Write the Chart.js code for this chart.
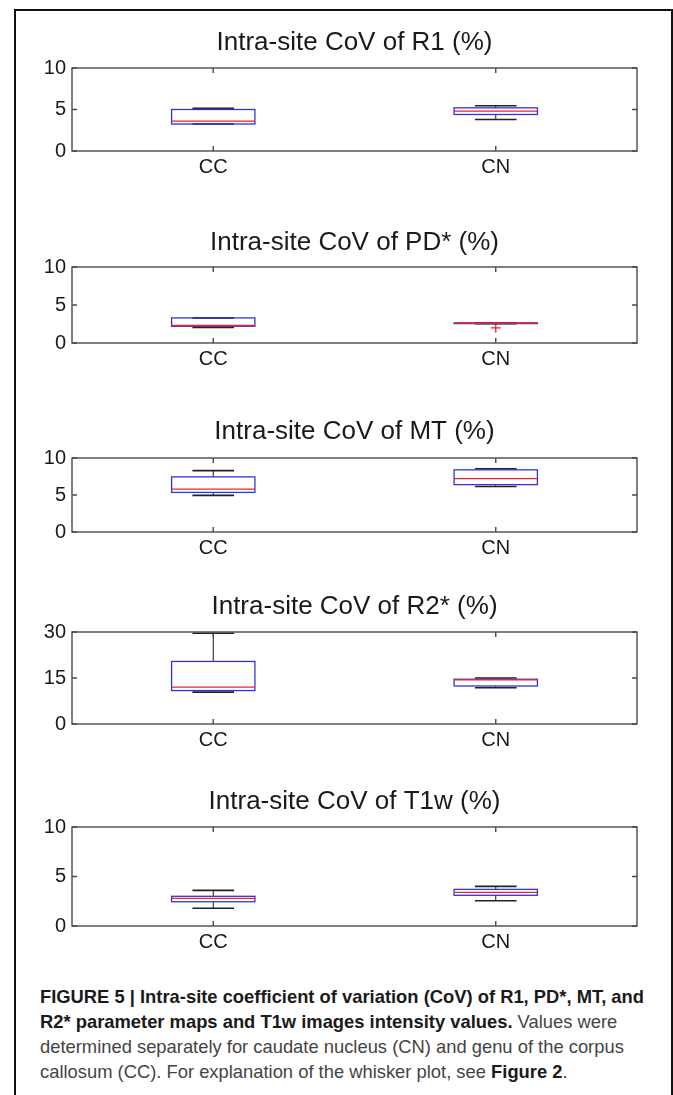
<!DOCTYPE html>
<html><head><meta charset="utf-8">
<script src="https://cdn.jsdelivr.net/npm/chart.js@4"></script>
<style>
html,body{margin:0;padding:0;background:#fff;}
body{width:673px;height:1095px;position:relative;overflow:hidden;}
#frame{position:absolute;left:14px;top:9px;width:659px;height:1100px;border:2px solid #111;border-bottom:none;box-sizing:border-box;}
.pc{position:absolute;left:0;}
#cap{position:absolute;left:40px;top:984px;font-family:"Liberation Sans",Arial,sans-serif;font-size:18.5px;line-height:25px;color:#444;white-space:nowrap;}
#cap div{transform-origin:0 50%;}
#cap b{color:#1a1a1a}
</style></head><body>
<div id="frame"></div>
<div id="charts"></div>
<div id="cap">
<div><b>FIGURE 5 | Intra-site coefficient of variation (CoV) of R1, PD*, MT, and</b></div>
<div><b>R2* parameter maps and T1w images intensity values.</b> Values were</div>
<div>determined separately for caudate nucleus (CN) and genu of the corpus</div>
<div>callosum (CC). For explanation of the whisker plot, see <b>Figure 2</b>.</div>
</div>
<script>
// ---- data ----
const categories = ['CC', 'CN'];
const titles = ['Intra-site CoV of R1 (%)', 'Intra-site CoV of PD* (%)', 'Intra-site CoV of MT (%)', 'Intra-site CoV of R2* (%)', 'Intra-site CoV of T1w (%)'];
const yMaxes = [10, 10, 10, 30, 10];
const yTickSteps = [5, 5, 5, 15, 5];

// [CC, CN]
const r1Lower  = [3.25, 3.8];
const r1Q1     = [3.25, 4.4];
const r1Median = [3.6, 4.8];
const r1Q3     = [5.0, 5.2];
const r1Upper  = [5.15, 5.45];
const r1Outliers = [null, null];

const pdLower  = [2.05, 2.55];
const pdQ1     = [2.2, 2.55];
const pdMedian = [2.3, 2.6];
const pdQ3     = [3.3, 2.65];
const pdUpper  = [3.3, 2.65];
const pdOutliers = [null, 2.0];

const mtLower  = [4.95, 6.15];
const mtQ1     = [5.35, 6.4];
const mtMedian = [5.8, 7.2];
const mtQ3     = [7.45, 8.4];
const mtUpper  = [8.3, 8.55];
const mtOutliers = [null, null];

const r2Lower  = [10.4, 11.8];
const r2Q1     = [10.9, 12.4];
const r2Median = [12.0, 14.4];
const r2Q3     = [20.4, 14.6];
const r2Upper  = [29.6, 15.0];
const r2Outliers = [null, null];

const t1Lower  = [1.8, 2.55];
const t1Q1     = [2.45, 3.1];
const t1Median = [2.8, 3.4];
const t1Q3     = [3.0, 3.7];
const t1Upper  = [3.6, 4.0];
const t1Outliers = [null, null];

const panelData = [
  {lower: r1Lower, q1: r1Q1, med: r1Median, q3: r1Q3, upper: r1Upper, out: r1Outliers},
  {lower: pdLower, q1: pdQ1, med: pdMedian, q3: pdQ3, upper: pdUpper, out: pdOutliers},
  {lower: mtLower, q1: mtQ1, med: mtMedian, q3: mtQ3, upper: mtUpper, out: mtOutliers},
  {lower: r2Lower, q1: r2Q1, med: r2Median, q3: r2Q3, upper: r2Upper, out: r2Outliers},
  {lower: t1Lower, q1: t1Q1, med: t1Median, q3: t1Q3, upper: t1Upper, out: t1Outliers}
];

// ---- layout (pixels) ----
const layoutPos = [
  {titleY: 43, top: 68, bottom: 151},
  {titleY: 243, top: 267, bottom: 343},
  {titleY: 432, top: 458, bottom: 532},
  {titleY: 607, top: 632, bottom: 724},
  {titleY: 802, top: 827, bottom: 926}
];
const PLOT_LEFT = 72, PLOT_RIGHT = 637, W = 673;
const TITLE_SIZE = 26, TICK_SIZE = 20;
const FONT = '"Liberation Sans", Arial, sans-serif';

const boxPlugin = {
  id: 'boxWhisker',
  afterDatasetsDraw(chart) {
    const d = chart.config.options.plugins.boxWhisker.data;
    const xs = chart.scales.x, ys = chart.scales.y;
    const meta = chart.getDatasetMeta(0);
    const ctx = chart.ctx;
    ctx.save();
    categories.forEach((c, j) => {
      const x = xs.getPixelForValue(j);
      const hw = meta.data[j].width / 2;
      const cw = hw / 2;
      ctx.strokeStyle = '#1a1a1a';
      ctx.lineWidth = 1;
      ctx.beginPath();
      ctx.moveTo(x, ys.getPixelForValue(d.q3[j])); ctx.lineTo(x, ys.getPixelForValue(d.upper[j]));
      ctx.moveTo(x, ys.getPixelForValue(d.q1[j])); ctx.lineTo(x, ys.getPixelForValue(d.lower[j]));
      ctx.stroke();
      ctx.lineWidth = 1.6;
      ctx.strokeStyle = '#222';
      ctx.beginPath();
      const yu = ys.getPixelForValue(d.upper[j]), yl = ys.getPixelForValue(d.lower[j]);
      ctx.moveTo(x - cw, yu); ctx.lineTo(x + cw, yu);
      ctx.moveTo(x - cw, yl); ctx.lineTo(x + cw, yl);
      ctx.stroke();
      ctx.strokeStyle = '#3333d6';
      ctx.lineWidth = 1.3;
      const yq1 = ys.getPixelForValue(d.q1[j]), yq3 = ys.getPixelForValue(d.q3[j]);
      ctx.strokeRect(x - hw, yq3, hw * 2, yq1 - yq3);
      ctx.strokeStyle = '#e3282e';
      ctx.lineWidth = 1.3;
      ctx.beginPath();
      const ym = ys.getPixelForValue(d.med[j]);
      ctx.moveTo(x - hw, ym); ctx.lineTo(x + hw, ym);
      ctx.stroke();
    });
    ctx.restore();
  },
  afterDraw(chart) {
    const a = chart.chartArea, ctx = chart.ctx;
    const xs = chart.scales.x, ys = chart.scales.y;
    ctx.save();
    ctx.strokeStyle = '#4a4a4a';
    ctx.lineWidth = 1.4;
    ctx.strokeRect(a.left, a.top, a.right - a.left, a.bottom - a.top);
    const tl = 5;
    ctx.beginPath();
    ys.ticks.forEach(t => {
      const y = ys.getPixelForValue(t.value);
      ctx.moveTo(a.left, y); ctx.lineTo(a.left + tl, y);
      ctx.moveTo(a.right, y); ctx.lineTo(a.right - tl, y);
    });
    categories.forEach((c, j) => {
      const x = xs.getPixelForValue(j);
      ctx.moveTo(x, a.bottom); ctx.lineTo(x, a.bottom - tl);
      ctx.moveTo(x, a.top); ctx.lineTo(x, a.top + tl);
    });
    ctx.stroke();
    ctx.restore();
  }
};

const holder = document.getElementById('charts');
titles.forEach((title, i) => {
  const p = layoutPos[i], d = panelData[i];
  const titleBlock = TITLE_SIZE * 1.2;
  const canvasTop = Math.round(p.titleY - titleBlock / 2);
  const padBottom = p.top - canvasTop - titleBlock;
  const xAxisH = 40;
  const h = p.bottom - canvasTop + xAxisH;
  const cv = document.createElement('canvas');
  cv.className = 'pc';
  cv.style.top = canvasTop + 'px';
  cv.width = W; cv.height = h;
  cv.style.width = W + 'px'; cv.style.height = h + 'px';
  holder.appendChild(cv);
  const datasets = [{
    type: 'bar',
    data: categories.map((c, j) => [d.q1[j], d.q3[j]]),
    backgroundColor: 'rgba(255,255,255,0)',
    borderColor: 'rgba(0,0,0,0)',
    borderWidth: 0,
    borderSkipped: false,
    barPercentage: 0.295,
    categoryPercentage: 1
  }];
  if (d.out.some(v => v !== null)) {
    datasets.push({
      type: 'line',
      data: d.out,
      showLine: false,
      pointStyle: 'cross',
      pointRadius: 5,
      borderColor: '#e3282e',
      backgroundColor: '#e3282e',
      borderWidth: 1.3
    });
  }
  new Chart(cv, {
    data: {labels: categories, datasets},
    options: {
      responsive: false,
      animation: false,
      devicePixelRatio: 1,
      layout: {padding: {left: 0, right: W - PLOT_RIGHT, top: 0, bottom: 0}},
      plugins: {
        legend: {display: false},
        tooltip: {enabled: false},
        title: {display: true, text: title, color: '#1a1a1a', fullSize: false,
          font: {family: FONT, size: TITLE_SIZE, weight: 'normal', lineHeight: 1.2},
          padding: {top: 0, bottom: padBottom}},
        boxWhisker: {data: d}
      },
      scales: {
        x: {
          type: 'category', offset: true,
          grid: {display: false, drawTicks: false},
          border: {display: false},
          ticks: {color: '#1a1a1a', font: {family: FONT, size: TICK_SIZE}, padding: 4, maxRotation: 0},
          afterFit: s => { s.height = xAxisH; }
        },
        y: {
          min: 0, max: yMaxes[i],
          grid: {display: false, drawTicks: false},
          border: {display: false},
          ticks: {stepSize: yTickSteps[i], color: '#1a1a1a', font: {family: FONT, size: TICK_SIZE}, padding: 6},
          afterFit: s => { s.width = PLOT_LEFT; }
        }
      }
    },
    plugins: [boxPlugin]
  });
});

// caption: condense lines so the first line spans the measured width
(function () {
  const lines = document.querySelectorAll('#cap div');
  const target = 604;
  const w0 = lines[0].scrollWidth || lines[0].getBoundingClientRect().width;
  const span = document.createElement('span');
  span.innerHTML = lines[0].innerHTML;
  span.style.whiteSpace = 'nowrap';
  lines[0].innerHTML = '';
  lines[0].appendChild(span);
  const wNat = span.getBoundingClientRect().width;
  const s = target / wNat;
  lines.forEach(l => { l.style.transform = 'scaleX(' + s.toFixed(4) + ')'; });
})();
</script>
</body></html>
